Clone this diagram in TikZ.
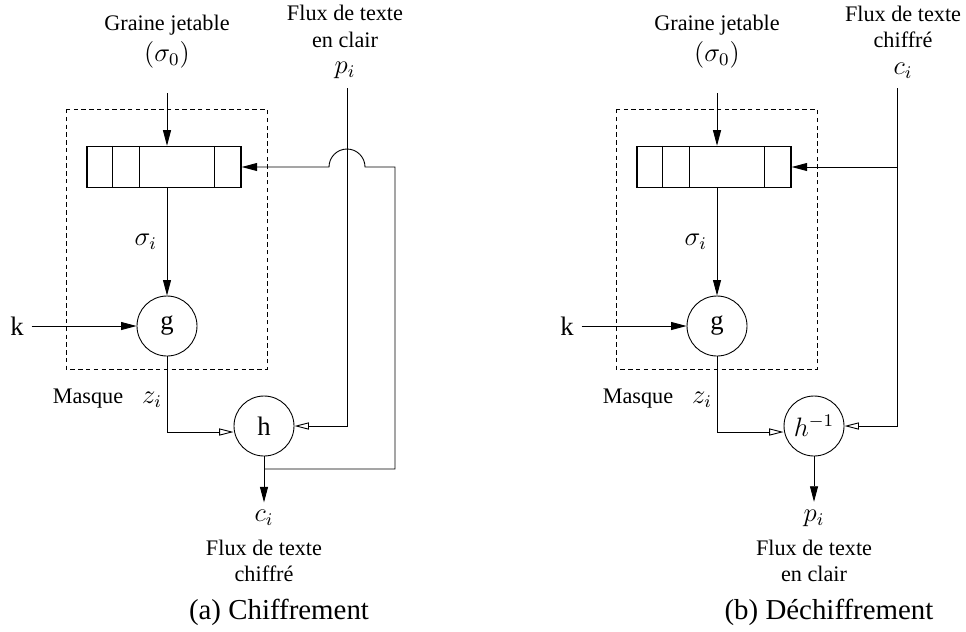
\documentclass[tikz,border=0pt]{standalone}
\usepackage{fontspec}
\setmainfont{Liberation Serif}
\usetikzlibrary{arrows.meta,positioning,calc}

\begin{document}
\begin{tikzpicture}[
  x=0.45pt, y=-0.45pt,
  font=\normalsize,
  lbl/.style={align=center, inner sep=1pt},
  sym/.style={font=\large},
  op/.style={circle, draw, minimum size=27pt, inner sep=0pt, font=\large},
  reg/.style={draw, semithick, minimum width=69.3pt, minimum height=18.5pt, inner sep=0pt},
  mask/.style={draw, dash pattern=on 2pt off 1.5pt},
  figcap/.style={font=\fontsize{13}{15}\selectfont},
  feed/.style={-{Triangle[open,length=6.5pt,width=3.2pt]}},
  >={Triangle[length=7pt,width=3.6pt]}
]
  \useasboundingbox (0,0) rectangle (966,631);

  \node[lbl] (seedA) at (167,42) {Graine jetable\\[2pt]{\large$(\sigma_0)$}};
  \coordinate (seedendA) at (167,93);
  \draw[mask] (66,109) rectangle (267,369);
  \node[reg] (regA) at (164,167) {};
  \foreach \f in {0.169,0.344,0.825}
    \draw[semithick] ($(regA.north west)!\f!(regA.north east)$) -- ($(regA.south west)!\f!(regA.south east)$);
  \node[op] (gA) at (167,326) {g};
  \node[sym] (kA) at (17,326) {k};
  \node[op] (hA) at (264,426) {h};
  \node (maskA) at (88,399) {Masque};
  \node[sym] (zA) at (152,400) {$z_i$};
  \node[lbl] (pinA) at (345,42) {Flux de texte\\en clair\\{\large$p_i$}};
  \coordinate (ptA) at (347,88);
  \node[sym] (ciA) at (264,518) {$c_i$};
  \node[lbl] (outA) at (264,561) {Flux de texte\\chiffr\'e};
  \coordinate (tapA) at (264,469);
  \coordinate (retA) at (regA.east -| 395,0);
  \node[figcap] (capA) at (279,612) {(a) Chiffrement};

  \draw[->] (seedendA) -- (seedendA |- regA.north);
  \draw[->] (gA |- regA.south) -- node[sym, left=1pt]{$\sigma_i$} (gA);
  \draw[->] (kA) -- (gA);
  \draw[feed] (gA) |- ([yshift=-2.7pt]hA.west);
  \draw[feed] (ptA) |- (hA.east);
  \draw[->] (hA) -- (ciA);
  \draw[->] (tapA) -| (retA) -- ($(ptA |- regA.east)+(18,0)$) arc[start angle=0, end angle=180, radius=8.1pt] -- (regA.east);

  \begin{scope}[xshift=247.5pt]
    \node[lbl] (seedB) at (167,42) {Graine jetable\\[2pt]{\large$(\sigma_0)$}};
    \coordinate (seedendB) at (167,93);
    \draw[mask] (66,109) rectangle (267,369);
    \node[reg] (regB) at (164,167) {};
    \foreach \f in {0.169,0.344,0.825}
      \draw[semithick] ($(regB.north west)!\f!(regB.north east)$) -- ($(regB.south west)!\f!(regB.south east)$);
    \node[op] (gB) at (167,326) {g};
    \node[sym] (kB) at (17,326) {k};
    \node[op] (hB) at (264,426) {$h^{-1}$};
    \node (maskB) at (88,399) {Masque};
    \node[sym] (zB) at (152,400) {$z_i$};
    \node[lbl] (cinB) at (353,42) {Flux de texte\\chiffr\'e\\{\large$c_i$}};
    \coordinate (ctB) at (347,88);
    \node[sym] (piB) at (264,518) {$p_i$};
    \node[lbl] (outB) at (264,561) {Flux de texte\\en clair};
    \node[figcap] (capB) at (279,612) {(b) D\'echiffrement};

    \draw[->] (seedendB) -- (seedendB |- regB.north);
    \draw[->] (gB |- regB.south) -- node[sym, left=1pt]{$\sigma_i$} (gB);
    \draw[->] (kB) -- (gB);
    \draw[feed] (gB) |- ([yshift=-2.7pt]hB.west);
    \draw[feed] (ctB) |- (hB.east);
    \draw[->] (ctB |- regB.east) -- (regB.east);
    \draw[->] (hB) -- (piB);
  \end{scope}
\end{tikzpicture}
\end{document}
